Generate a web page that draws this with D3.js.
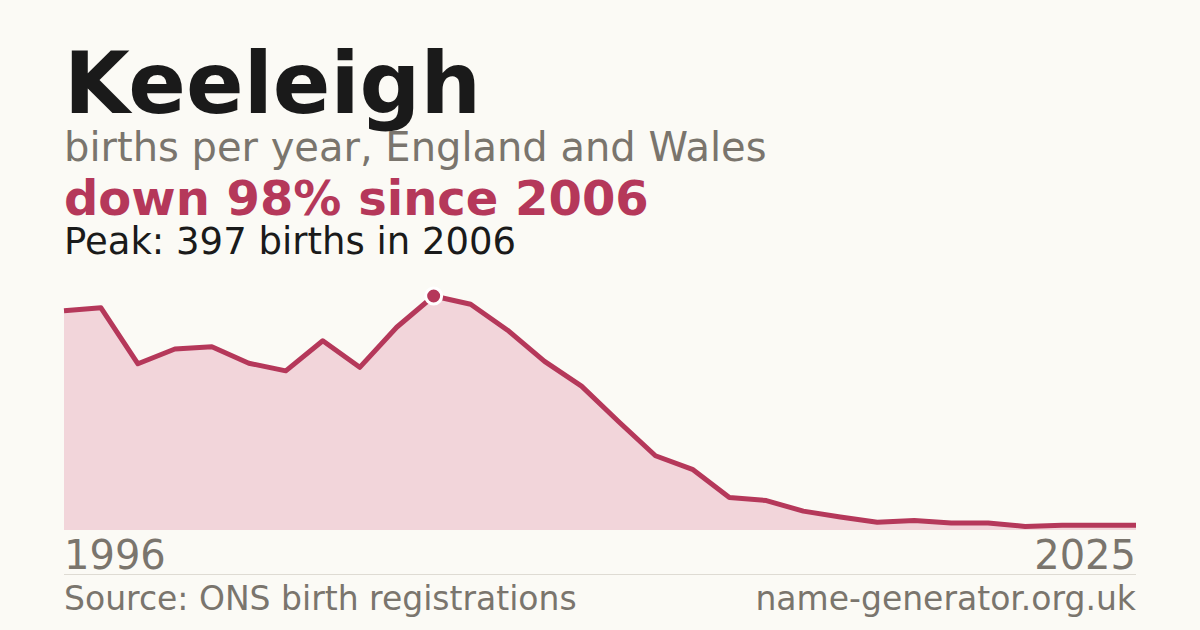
<!DOCTYPE html>
<html><head><meta charset="utf-8">
<script src="https://cdn.jsdelivr.net/npm/d3@7"></script>
<style>html,body{margin:0;padding:0;background:#fbfaf5;}svg{display:block;}</style>
</head><body>
<svg id="c" width="1200" height="630"></svg>
<script>
const years = d3.range(1996, 2026);
const births = [372,377,282,307,311,283,270,321,276,344,397,383,339,286,244,184,126,103,55,50,32,22,13,16,12,12,6,8,8,8];
const title = "Keeleigh";
const subtitle = "births per year, England and Wales";
const headline = "down 98% since 2006";
const peakText = "Peak: 397 births in 2006";
const tickLabels = ["1996", "2025"];
const sourceText = "Source: ONS birth registrations";
const siteText = "name-generator.org.uk";

const data = years.map((y,i)=>({year:y, v:births[i]}));
const svg = d3.select("#c");
const font = "DejaVu Sans";
const x = d3.scaleLinear().domain([1996,2025]).range([64,1136]);
const y = d3.scaleLinear().domain([0,397]).range([530,296]);

svg.append("rect").attr("width",1200).attr("height",630).attr("fill","#fbfaf5");

svg.append("path").datum(data)
  .attr("d", d3.area().x(d=>x(d.year)).y0(y(0)).y1(d=>y(d.v)))
  .attr("fill","#f2d5da");
svg.append("path").datum(data)
  .attr("d", d3.line().x(d=>x(d.year)).y(d=>y(d.v)))
  .attr("fill","none").attr("stroke","#b5385a").attr("stroke-width",5).attr("stroke-linejoin","round");

const peak = data.reduce((a,b)=>b.v>a.v?b:a);
svg.append("circle").attr("cx",x(peak.year)).attr("cy",y(peak.v)).attr("r",8)
  .attr("fill","#b5385a").attr("stroke","#ffffff").attr("stroke-width",3);

const txt = (t,xx,yy,size,weight,color,anchor)=>svg.append("text").text(t)
  .attr("x",xx).attr("y",yy).attr("font-family",font).attr("font-size",size)
  .attr("font-weight",weight).attr("fill",color).attr("text-anchor",anchor||"start");

txt(title,64,113,85,"bold","#1a1a1a");
txt(subtitle,64,161,40,"normal","#7a756d");
txt(headline,64,215,48,"bold","#b5385a");
txt(peakText,64,254,37,"normal","#1a1a1a");

const xa = svg.append("g");
xa.selectAll("text").data([1996,2025]).join("text")
  .text((d,i)=>tickLabels[i]).attr("x",d=>x(d)).attr("y",569)
  .attr("text-anchor",(d,i)=>i===0?"start":"end")
  .attr("font-family",font).attr("font-size",40).attr("fill","#7a756d");

svg.append("line").attr("x1",64).attr("x2",1136).attr("y1",574.5).attr("y2",574.5)
  .attr("stroke","#dedbd3").attr("stroke-width",1);

txt(sourceText,64,610,33,"normal","#7a756d");
txt(siteText,1136,610,33,"normal","#7a756d","end");
</script>
</body></html>
